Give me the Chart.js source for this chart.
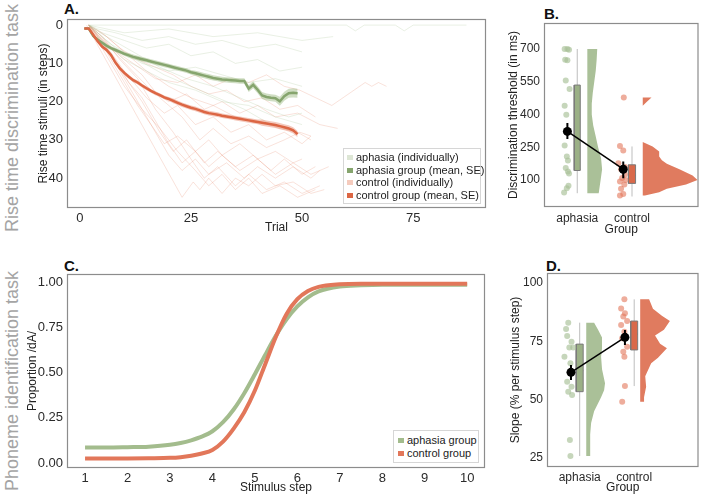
<!DOCTYPE html>
<html>
<head>
<meta charset="utf-8">
<script src="https://cdn.jsdelivr.net/npm/chart.js@4.4.1/dist/chart.umd.min.js"></script>
<style>
  body { margin: 0; width: 703px; height: 495px; position: relative; background: #fff; overflow: hidden;
         font-family: Arial, "Liberation Sans", Helvetica, sans-serif; }
  .pane { position: absolute; }
  .letter { position: absolute; font-weight: bold; font-size: 15px; line-height: 15px; color: #111; }
  .side { position: absolute; width: 260px; height: 20px; text-align: center; font-size: 18px; line-height: 20px;
          color: #a4a4a4; transform: rotate(-90deg); white-space: nowrap; }
  .legend { position: absolute; background: #fff; border: 1px solid #d6d6d6; font-size: 11px; color: #222; }
  .legend div { height: 12.5px; line-height: 12.5px; white-space: nowrap; }
  .key { display: inline-block; width: 6px; height: 5px; margin: 0 3px 1px 0; vertical-align: middle; }
</style>
</head>
<body>

<div class="side" style="left:-118px;top:108px">Rise time discrimination task</div>
<div class="side" style="left:-118px;top:371px">Phoneme identification task</div>

<div class="letter" style="left:64px;top:1px">A.</div>
<div class="letter" style="left:544px;top:6px">B.</div>
<div class="letter" style="left:64px;top:258px">C.</div>
<div class="letter" style="left:546px;top:258px">D.</div>

<div class="pane" style="left:20px;top:0px"><canvas id="chartA" width="470" height="240"></canvas></div>
<div class="pane" style="left:490px;top:0px"><canvas id="chartB" width="213" height="240"></canvas></div>
<div class="pane" style="left:20px;top:250px"><canvas id="chartC" width="470" height="245"></canvas></div>
<div class="pane" style="left:490px;top:250px"><canvas id="chartD" width="213" height="245"></canvas></div>

<div class="legend" style="left:343px;top:148px;width:133px;padding:2px 0 2px 3px">
  <div><span class="key" style="background:#dde6d5"></span>aphasia (individually)</div>
  <div><span class="key" style="background:#86a56e"></span>aphasia group (mean, SE)</div>
  <div><span class="key" style="background:#f5cbbd"></span>control (individually)</div>
  <div><span class="key" style="background:#dc6644"></span>control group (mean, SE)</div>
</div>

<div class="legend" style="left:393px;top:430px;width:80px;padding:3px 0 3px 4px">
  <div><span class="key" style="background:#a3bc8d"></span>aphasia group</div>
  <div><span class="key" style="background:#e2775a"></span>control group</div>
</div>

<script>
// ---------- A. rise time staircase ----------
const trials = [1,2,3,4,5,6,7,8,9,10,11,12,13,14,15,16,17,18,19,20,21,22,23,24,25,
                26,27,28,29,30,31,32,33,34,35,36,37,38,39,40,41,42,43,44,45,46,47,48,49];
const aphasiaMean = [0.9,0.9,2.8,3.8,4.6,5.4,6.0,6.5,7.0,7.5,7.9,8.3,8.6,8.9,9.2,9.5,9.8,10.1,10.4,10.7,
                     11.0,11.3,11.6,11.9,12.3,12.6,12.9,13.2,13.5,13.8,14.0,14.2,14.3,14.4,14.5,14.6,14.6,
                     16.6,15.6,16.9,18.4,18.8,19.0,19.1,19.9,18.6,17.8,17.7,17.8];
const aphasiaSE = [0.2,0.2,0.5,0.5,0.5,0.5,0.5,0.5,0.5,0.5,0.6,0.6,0.6,0.6,0.6,0.6,0.6,0.6,0.6,0.6,
                   0.6,0.6,0.6,0.6,0.6,0.7,0.7,0.7,0.7,0.7,0.7,0.7,0.7,0.7,0.7,0.7,0.7,
                   0.9,0.9,0.9,0.9,0.9,0.9,0.9,1.2,1.2,1.2,1.2,1.2];
const controlMean = [0.9,0.9,2.5,4.2,5.6,6.5,7.8,9.8,11.3,12.5,13.5,14.4,15.0,15.8,16.5,17.2,17.8,18.3,18.9,19.3,
                     19.8,20.3,20.8,21.2,21.6,21.9,22.3,22.7,23.0,23.2,23.4,23.7,23.9,24.1,24.3,24.5,24.7,
                     24.9,25.1,25.3,25.5,25.7,25.9,26.1,26.4,26.7,27.0,27.5,28.5];
const controlSE = [0.2,0.2,0.5,0.5,0.5,0.5,0.5,0.5,0.5,0.5,0.5,0.5,0.5,0.5,0.5,0.5,0.5,0.5,0.5,0.5,
                   0.6,0.6,0.6,0.6,0.6,0.6,0.6,0.6,0.6,0.6,0.6,0.6,0.6,0.6,0.6,0.6,0.6,0.6,0.6,0.6,
                   0.8,0.8,0.8,0.8,0.8,0.8,0.8,0.8,0.8];

// individual staircases, [trial, step] at turning points
const aphasiaTraces = [
  [[2,0],[60,0],[62,1.5],[64,0],[71,0],[73,1.5],[75,0],[87,0]],
  [[2,0],[5,2],[10,4],[15,6],[20,5],[25,8],[30,7],[35,10],[40,9],[45,12],[50,11]],
  [[2,0],[6,3],[12,7],[18,11],[24,14],[30,16],[36,19],[42,22],[47,24],[50,23]],
  [[2,0],[4,1],[8,2],[14,4],[20,3],[26,5],[32,4],[38,6],[44,5],[50,7]],
  [[2,0],[7,5],[13,9],[19,13],[25,16],[31,19],[37,22],[43,26],[49,28]],
  [[2,0],[5,4],[10,9],[15,12],[20,15],[26,17],[32,20],[38,21],[44,24],[50,26]],
  [[2,0],[8,6],[14,10],[20,12],[26,11],[32,13],[38,15],[44,14],[50,16]],
  [[2,0],[10,2],[20,1],[30,3],[40,2],[50,4],[57,3]]
];
const controlTraces = [
  [[1.5,0],[23,45],[25.5,41],[27,43],[29,40],[32,44],[35,40],[38,42],[41,39],[44,42],[48,41],[52,44],[55,43]],
  [[2,0],[6,6],[12,18],[16,26],[20,34],[23,38],[26,35],[29,39],[33,36],[37,40],[40,37],[44,40],[48,37],[52,40],[54,38]],
  [[2,0],[8,10],[14,20],[18,28],[21,33],[24,30],[28,36],[31,33],[35,37],[39,34],[43,38],[46,35],[50,39],[53,37]],
  [[2,0],[5,4],[10,12],[15,19],[19,23],[22,21],[26,26],[30,24],[34,28],[38,26],[42,30],[46,28],[50,31],[52,29]],
  [[2,0],[6,5],[11,11],[16,17],[20,20],[24,18],[28,22],[32,20],[36,23],[40,21],[44,24],[49,23],[54,26],[58,27]],
  [[2,0],[7,6],[12,10],[17,14],[22,15],[26,13],[30,16],[34,14],[38,15],[42,13],[46,16],[49.5,17],[56.7,21],[64.2,15],[65.7,16],[67.2,15],[69,16]],
  [[2,0],[4,2],[9,8],[14,13],[18,19],[23,24],[27,30],[30,27],[34,31],[38,29],[42,32],[46,30],[49.5,28],[52,29]],
  [[2,0],[5,3],[9,9],[13,14],[17,22],[21,28],[25,35],[28,40],[31,37],[35,42],[38,39],[42,43],[46,41],[50,44],[54,42]],
  [[2,0],[6,3],[10,7],[15,12],[20,16],[25,19],[30,21],[35,24],[40,25],[45,27],[49,28],[52,30]],
  [[2,0],[3,1],[8,11],[13,21],[16,26],[19,31],[22,29],[26,33],[29,30],[32,34],[36,31],[40,35],[44,33],[48,36],[50,35]],
  [[2,0],[4,3],[8,9],[11,15],[14,19],[17,25],[20,31],[23,36],[26,33],[29,37],[32,34],[36,38],[40,35],[44,39],[48,36],[52,39],[56,37]],
  [[2,0],[5,2],[9,6],[13,9],[17,11],[21,13],[25,16],[29,18],[33,17],[37,20],[41,19],[45,22],[49,21],[53,24]],
  [[2,0],[6,8],[10,16],[14,22],[18,27],[22,33],[26,38],[29,42],[32,39],[35,43],[38,40],[41,44],[45,42],[49,45],[53,43]]
];

// ---------- B. discrimination threshold ----------
const groups = ['aphasia', 'control'];
const thrAphasia = [700,700,697,651,648,556,517,440,399,258,208,190,155,140,130,74,63,43];
const thrAphasiaJit = [-0.23,-0.18,-0.15,-0.22,-0.18,-0.21,-0.14,-0.23,-0.2,-0.23,-0.19,-0.17,-0.21,-0.17,-0.15,-0.16,-0.19,-0.24];
const thrControl = [478,256,236,177,160,150,126,110,100,94,80,60,36,30];
const thrControlJit = [-0.15,-0.22,-0.16,-0.25,-0.13,-0.2,-0.13,-0.18,-0.12,-0.22,-0.14,-0.2,-0.16,-0.22];
const thrBoxAphasia = [40,144,150,535,700];   // min, q1, median, q3, max
const thrBoxControl = [25,85,121,170,254];
const thrMean = [323,150];
const thrMeanLo = [288,109];
const thrMeanHi = [361,185];
const thrViolinAphasiaY = [700,650,600,550,500,450,400,350,300,250,200,150,100,40];
const thrViolinAphasiaD = [0.67,0.63,0.57,0.47,0.37,0.3,0.3,0.4,0.57,0.73,0.93,1,0.9,0.77];
const thrViolinControlY = [478,460,440,275,254,231,208,191,175,150,121,100,80,60,45,30];
const thrViolinControlD = [0.16,0.08,0,0,0.18,0.3,0.3,0.35,0.44,0.67,0.91,1,0.79,0.44,0.3,0.04];

// ---------- C. identification curves ----------
const stimStep = [1,1.5,2,2.5,3,3.25,3.5,3.75,4,4.25,4.5,4.75,5,5.25,5.5,5.75,6,6.25,6.5,7,7.5,8,9,10];
const identAphasia = [0.085,0.085,0.087,0.09,0.10,0.11,0.125,0.145,0.175,0.225,0.295,0.385,0.49,0.60,0.705,0.795,0.865,0.915,0.948,0.975,0.982,0.985,0.985,0.985];
const identControl = [0.025,0.025,0.025,0.026,0.028,0.032,0.04,0.052,0.072,0.118,0.19,0.28,0.40,0.55,0.70,0.825,0.905,0.95,0.973,0.987,0.99,0.99,0.99,0.99];

// ---------- D. slope ----------
const slopeAphasia = [83,80.3,77.3,74.8,72.3,72.3,68.4,65.6,57.7,55.5,53.4,52,32.7,25.8];
const slopeAphasiaJit = [-0.21,-0.25,-0.23,-0.15,-0.12,-0.19,-0.28,-0.17,-0.23,-0.15,-0.21,-0.14,-0.18,-0.17];
const slopeControl = [93,89.1,87,85.6,83.7,82,79.1,76.3,72.7,70.5,68.4,55.8,49.1];
const slopeControlJit = [-0.18,-0.24,-0.17,-0.2,-0.13,-0.24,-0.18,-0.22,-0.13,-0.2,-0.18,-0.17,-0.22];
const slopeBoxAphasia = [25.8,53.4,62.4,73.8,83];
const slopeBoxControl = [55.8,71.3,78.1,83.7,93];
const slopeMean = [61.7,76.7];
const slopeMeanLo = [58.4,73.4];
const slopeMeanHi = [64.8,79.9];
const slopeViolinAphasiaY = [83,80,76.6,72,68.4,63,57,54,51,45,40,35,30,25.8];
const slopeViolinAphasiaD = [0.42,0.63,0.84,0.84,0.79,0.84,1,0.95,0.79,0.42,0.26,0.21,0.21,0.21];
const slopeViolinControlY = [93,89,86,83.7,80,77.5,74,72,68,65.6,60,55.5,51,49.1];
const slopeViolinControlD = [0.3,0.43,0.73,1,0.8,0.5,0.67,0.9,0.6,0.37,0.17,0.2,0.13,0.13];

Chart.defaults.font.family = 'Arial, "Liberation Sans", Helvetica, sans-serif';
Chart.defaults.color = '#2b2b2b';

const framePlugin = {
    id: 'frame',
    afterDraw(chart) {
        const {ctx, chartArea: a} = chart;
        ctx.save();
        ctx.strokeStyle = '#8c8c8c';
        ctx.lineWidth = 1.2;
        ctx.strokeRect(a.left + 0.5, a.top + 0.5, a.right - a.left - 1, a.bottom - a.top - 1);
        ctx.restore();
    }
};

function makeOptions(o) {
    return {
        responsive: false,
        animation: false,
        devicePixelRatio: 1,
        events: [],
        layout: {padding: {top: o.padTop, right: o.padRight, left: 0, bottom: 0}},
        plugins: {legend: {display: false}, tooltip: {enabled: false}},
        scales: {
            x: {
                type: 'linear', min: o.xMin, max: o.xMax,
                grid: {display: false, drawTicks: false}, border: {display: false},
                ticks: {font: {size: o.tickSize}, color: '#2b2b2b', padding: o.xTickPad, maxRotation: 0, autoSkip: false,
                        callback: o.xFmt || (v => v)},
                afterBuildTicks: s => { s.ticks = o.xTicks.map(v => ({value: v})); },
                afterFit: s => { s.height = o.xH; },
                title: {display: true, text: o.xTitle, font: {size: 12}, color: '#222', padding: {top: 0, bottom: o.xTitlePad}}
            },
            y: {
                type: 'linear', min: o.yMin, max: o.yMax, reverse: !!o.reverse,
                grid: {display: false, drawTicks: false}, border: {display: false},
                ticks: {font: {size: o.tickSize}, color: '#2b2b2b', padding: 4, autoSkip: false,
                        callback: o.yFmt || (v => v)},
                afterBuildTicks: s => { s.ticks = o.yTicks.map(v => ({value: v})); },
                afterFit: s => { s.width = o.yW; },
                title: {display: true, text: o.yTitle, font: {size: 12}, color: '#222', padding: {top: o.yTitlePad, bottom: 0}}
            }
        }
    };
}

const xy = (xs, ys) => xs.map((x, i) => ({x: x, y: ys[i]}));

// ---------- chart A ----------
const setsA = [
    {data: xy(trials, aphasiaMean.map((m, i) => m - aphasiaSE[i])), borderWidth: 0, pointRadius: 0, fill: false, order: 2},
    {data: xy(trials, aphasiaMean.map((m, i) => m + aphasiaSE[i])), borderWidth: 0, pointRadius: 0, fill: '-1',
     backgroundColor: 'rgba(150,182,125,0.45)', order: 2},
    {data: xy(trials, controlMean.map((m, i) => m - controlSE[i])), borderWidth: 0, pointRadius: 0, fill: false, order: 2},
    {data: xy(trials, controlMean.map((m, i) => m + controlSE[i])), borderWidth: 0, pointRadius: 0, fill: '-1',
     backgroundColor: 'rgba(228,120,90,0.4)', order: 2},
    {data: xy(trials, aphasiaMean), borderColor: '#86a56e', borderWidth: 2.5, pointRadius: 0, fill: false, order: 1},
    {data: xy(trials, controlMean), borderColor: '#dc6644', borderWidth: 2.5, pointRadius: 0, fill: false, order: 0}
];
aphasiaTraces.forEach(tr => setsA.push({data: tr.map(p => ({x: p[0], y: p[1]})), borderColor: 'rgba(175,202,155,0.35)',
                                        borderWidth: 0.8, pointRadius: 0, fill: false, order: 3}));
controlTraces.forEach(tr => setsA.push({data: tr.map(p => ({x: p[0], y: p[1]})), borderColor: 'rgba(232,135,105,0.3)',
                                        borderWidth: 0.8, pointRadius: 0, fill: false, order: 3}));

new Chart(document.getElementById('chartA'), {
    type: 'line',
    data: {datasets: setsA},
    options: makeOptions({padTop: 19, padRight: 4, yW: 47, xH: 32, tickSize: 13,
        xMin: -2.9, xMax: 91.4, xTicks: [0, 25, 50, 75], xTitle: 'Trial', xTickPad: 3, xTitlePad: 5,
        yMin: -1.6, yMax: 47.8, reverse: true, yTicks: [0, 10, 20, 30, 40], yTitle: 'Rise time stimuli (in steps)', yTitlePad: 16}),
    plugins: [framePlugin]
});

// ---------- raincloud helpers ----------
function cloudSets(c, vals, jit, box, vY, vD, vOff, vScale, boxHalf, col) {
    const violin = [{x: c + vOff, y: vY[0]}];
    vY.forEach((y, i) => violin.push({x: c + vOff + vScale * vD[i], y: y}));
    violin.push({x: c + vOff, y: vY[vY.length - 1]});
    return [
        {data: violin, borderWidth: 0, backgroundColor: col.violin, fill: 'shape', pointRadius: 0, order: 5},
        {data: [{x: c, y: box[0]}, {x: c, y: box[4]}], borderColor: '#bdbdbd', borderWidth: 1, pointRadius: 0, fill: false, order: 4},
        {data: [{x: c - boxHalf, y: box[1]}, {x: c + boxHalf, y: box[1]}, {x: c + boxHalf, y: box[3]},
                {x: c - boxHalf, y: box[3]}, {x: c - boxHalf, y: box[1]}],
         borderColor: '#7a7a7a', borderWidth: 1, backgroundColor: col.box, fill: 'shape', pointRadius: 0, order: 3},
        {data: [{x: c - boxHalf, y: box[2]}, {x: c + boxHalf, y: box[2]}], borderColor: '#5a5a5a', borderWidth: 1,
         pointRadius: 0, fill: false, order: 3},
        {data: vals.map((y, i) => ({x: c + jit[i], y: y})), showLine: false, pointRadius: 3,
         pointBackgroundColor: col.pt, pointBorderWidth: 0, order: 2}
    ];
}

function meanSets(xs, means, lo, hi) {
    const sets = [{data: xy(xs, means), borderColor: '#000', borderWidth: 1.5, pointRadius: 4.5,
                   pointBackgroundColor: '#000', pointBorderWidth: 0, fill: false, order: 0}];
    xs.forEach((x, i) => sets.push({data: [{x: x, y: lo[i]}, {x: x, y: hi[i]}], borderColor: '#000', borderWidth: 2,
                                    pointRadius: 0, fill: false, order: 1}));
    return sets;
}

const green = {violin: '#aac098', box: '#9bb086', pt: 'rgba(168,192,150,0.65)'};
const red = {violin: '#e07b5f', box: '#d9694a', pt: 'rgba(226,118,90,0.6)'};
const groupFmt = v => v === 1 ? groups[0] : (v === 2 ? groups[1] : '');

// ---------- chart B ----------
new Chart(document.getElementById('chartB'), {
    type: 'line',
    data: {datasets: [].concat(
        cloudSets(1, thrAphasia, thrAphasiaJit, thrBoxAphasia, thrViolinAphasiaY, thrViolinAphasiaD, 0.184, 0.27, 0.055, green),
        cloudSets(2, thrControl, thrControlJit, thrBoxControl, thrViolinControlY, thrViolinControlD, 0.196, 1.0, 0.065, red),
        meanSets([0.82, 1.84], thrMean, thrMeanLo, thrMeanHi))},
    options: makeOptions({padTop: 23, padRight: 1, yW: 54, xH: 33, tickSize: 12,
        xMin: 0.393, xMax: 3.214, xTicks: [1, 2], xFmt: groupFmt, xTitle: 'Group', xTickPad: 4, xTitlePad: 3,
        yMin: -23, yMax: 819, yTicks: [100, 250, 400, 550, 700], yTitle: 'Discrimination threshold (in ms)', yTitlePad: 16}),
    plugins: [framePlugin]
});

// ---------- chart C ----------
new Chart(document.getElementById('chartC'), {
    type: 'line',
    data: {datasets: [
        {data: xy(stimStep, identAphasia), borderColor: '#a3bc8d', borderWidth: 4, pointRadius: 0, fill: false,
         cubicInterpolationMode: 'monotone', order: 1},
        {data: xy(stimStep, identControl), borderColor: '#e2775a', borderWidth: 4, pointRadius: 0, fill: false,
         cubicInterpolationMode: 'monotone', order: 0}
    ]},
    options: makeOptions({padTop: 24, padRight: 5, yW: 47, xH: 27, tickSize: 13,
        xMin: 0.575, xMax: 10.42, xTicks: [1, 2, 3, 4, 5, 6, 7, 8, 9, 10], xTitle: 'Stimulus step', xTickPad: 3, xTitlePad: 0,
        yMin: -0.028, yMax: 1.044, yTicks: [0, 0.25, 0.5, 0.75, 1], yFmt: v => v.toFixed(2),
        yTitle: 'Proportion /dA/', yTitlePad: 5}),
    plugins: [framePlugin]
});

// ---------- chart D ----------
new Chart(document.getElementById('chartD'), {
    type: 'line',
    data: {datasets: [].concat(
        cloudSets(1, slopeAphasia, slopeAphasiaJit, slopeBoxAphasia, slopeViolinAphasiaY, slopeViolinAphasiaD, 0.12, 0.345, 0.064, green),
        cloudSets(2, slopeControl, slopeControlJit, slopeBoxControl, slopeViolinControlY, slopeViolinControlD, 0.11, 0.545, 0.064, red),
        meanSets([0.84, 1.83], slopeMean, slopeMeanLo, slopeMeanHi))},
    options: makeOptions({padTop: 23, padRight: 3, yW: 57, xH: 28, tickSize: 12,
        xMin: 0.4, xMax: 3.18, xTicks: [1, 2], xFmt: groupFmt, xTitle: 'Group', xTickPad: 3, xTitlePad: 0,
        yMin: 21.1, yMax: 104.3, yTicks: [25, 50, 75, 100], yTitle: 'Slope (% per stimulus step)', yTitlePad: 18}),
    plugins: [framePlugin]
});
</script>
</body>
</html>
